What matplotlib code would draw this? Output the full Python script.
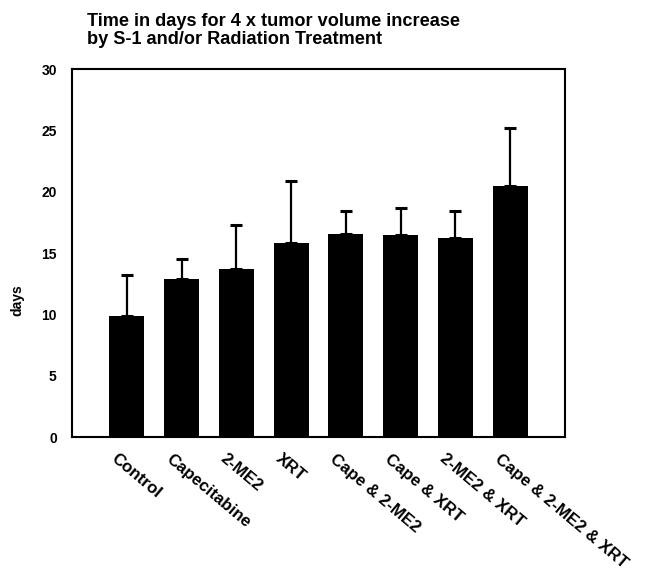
import numpy as np
import matplotlib
matplotlib.use("Agg")
from matplotlib import pyplot as plt
from matplotlib import transforms

groups = ['Control', 'Capecitabine', '2-ME2', 'XRT', 'Cape & 2-ME2',
          'Cape & XRT', '2-ME2 & XRT', 'Cape & 2-ME2 & XRT']
days = [9.9, 12.85, 13.7, 15.85, 16.6, 16.45, 16.2, 20.5]
err_up = [3.3, 1.65, 3.6, 5.0, 1.85, 2.2, 2.25, 4.7]
yticks = [0, 5, 10, 15, 20, 25, 30]

plt.rcParams['font.family'] = ['Liberation Sans', 'DejaVu Sans']
plt.rcParams['font.weight'] = 'bold'

fig = plt.figure(figsize=(6.67, 5.77), dpi=100)
ax = fig.add_axes([0.108, 0.2426, 0.739, 0.6374])

x = np.arange(len(groups))
ax.bar(x, days, width=0.64, color='black')
ax.errorbar(x, days, yerr=[np.zeros(len(days)), err_up], fmt='none',
            ecolor='black', elinewidth=1.6, capsize=4, capthick=2.2)

ax.set_xlim(-1, len(groups))
ax.set_ylim(0, 30)
ax.set_yticks(yticks)
ax.set_yticklabels([str(t) for t in yticks], fontsize=10, fontweight='bold')
ax.tick_params(axis='y', length=0, pad=11)
ax.set_xticks([])
for s in ax.spines.values():
    s.set_linewidth(1.5)

# rotated category labels, starting just left of each bar centre
off = transforms.ScaledTranslation(-9 / 100, -14 / 100, fig.dpi_scale_trans)
for i, g in enumerate(groups):
    ax.text(i, 0, g, rotation=-40, rotation_mode='anchor', ha='left', va='top',
            fontsize=12.2, fontweight='bold',
            transform=ax.get_xaxis_transform() + off)

fig.text(0.026, 0.48, 'days', rotation=90, ha='center', va='center',
         fontsize=10, fontweight='bold')

fig.text(0.131, 0.978, 'Time in days for 4 x tumor volume increase\nby S-1 and/or Radiation Treatment',
         ha='left', va='top', fontsize=13.1, fontweight='bold', linespacing=1.1)

fig.savefig('out.png', dpi=100)
